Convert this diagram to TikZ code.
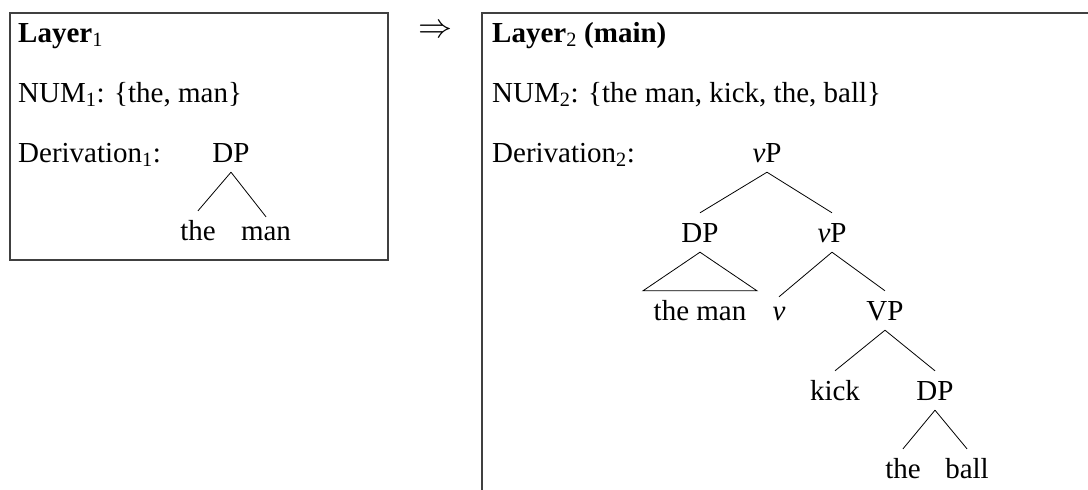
\documentclass[tikz,border=0pt]{standalone}
\usepackage{fontspec}
\setmainfont{Liberation Serif}
\usetikzlibrary{calc}
\begin{document}
\begin{tikzpicture}[x=1pt,y=-1pt,
  every node/.style={font=\fontsize{29pt}{34pt}\selectfont},
  lbl/.style={anchor=base west, inner sep=0pt},
  tn/.style={anchor=base, inner sep=0pt, text height=29pt, text depth=10pt},
  boxline/.style={draw=black!75, line width=1.5pt},
  edge/.style={line width=0.8pt}]
\useasboundingbox (0,0) rectangle (1088,490);
% boxes
\draw[boxline] (10,13) rectangle (388,260);
\begin{scope}
\clip (0,0) rectangle (1088,490);
\draw[boxline] (1100,13) -- (482,13) -- (482,500);
\end{scope}
% left box texts
\node[lbl] (t1) at (18,42) {\textbf{Layer}\textsubscript{1}};
\node[lbl] (n1) at (18,102) {NUM\textsubscript{1}: \{the, man\}};
\node[lbl] (d1) at (18,162) {Derivation\textsubscript{1}:};
% arrow
\node[inner sep=0pt] (arr) at (435,31) {\resizebox{34pt}{!}{$\Rightarrow$}};
% right box texts
\node[lbl] (t2) at (492,42) {\textbf{Layer}\textsubscript{2} \textbf{(main)}};
\node[lbl] (n2) at (492,102) {NUM\textsubscript{2}: \{the man, kick, the, ball\}};
\node[lbl] (d2) at (492,162) {Derivation\textsubscript{2}:};
% tree 1
\node[tn] (dp1) at (231,162) {DP};
\node[tn] (the1) at (198,240) {the};
\node[tn, text height=23pt] (man1) at (266,240) {man};
\draw[edge] (dp1.south) -- (the1.north);
\draw[edge] (dp1.south) -- (man1.north);
% tree 2
\node[tn] (vp0) at (767,162) {\textit{v}P};
\node[tn] (dp2) at (700,242) {DP};
\node[tn] (vp1) at (832,242) {\textit{v}P};
\node[tn] (theman) at (700,320) {the man};
\node[tn, text height=23pt] (v) at (779,320) {\textit{v}};
\node[tn] (VP) at (885,320) {VP};
\node[tn] (kick) at (835,400) {kick};
\node[tn] (dp3) at (935,400) {DP};
\node[tn] (the3) at (903,478) {the};
\node[tn] (ball) at (967,478) {ball};
\draw[edge] (vp0.south) -- (dp2.north);
\draw[edge] (vp0.south) -- (vp1.north);
\draw[edge] (dp2.south) -- ($(theman.north)+(-57,0)$) -- ($(theman.north)+(57,0)$) -- cycle;
\draw[edge] (vp1.south) -- (v.north);
\draw[edge] (vp1.south) -- (VP.north);
\draw[edge] (VP.south) -- (kick.north);
\draw[edge] (VP.south) -- (dp3.north);
\draw[edge] (dp3.south) -- (the3.north);
\draw[edge] (dp3.south) -- (ball.north);
\end{tikzpicture}
\end{document}
